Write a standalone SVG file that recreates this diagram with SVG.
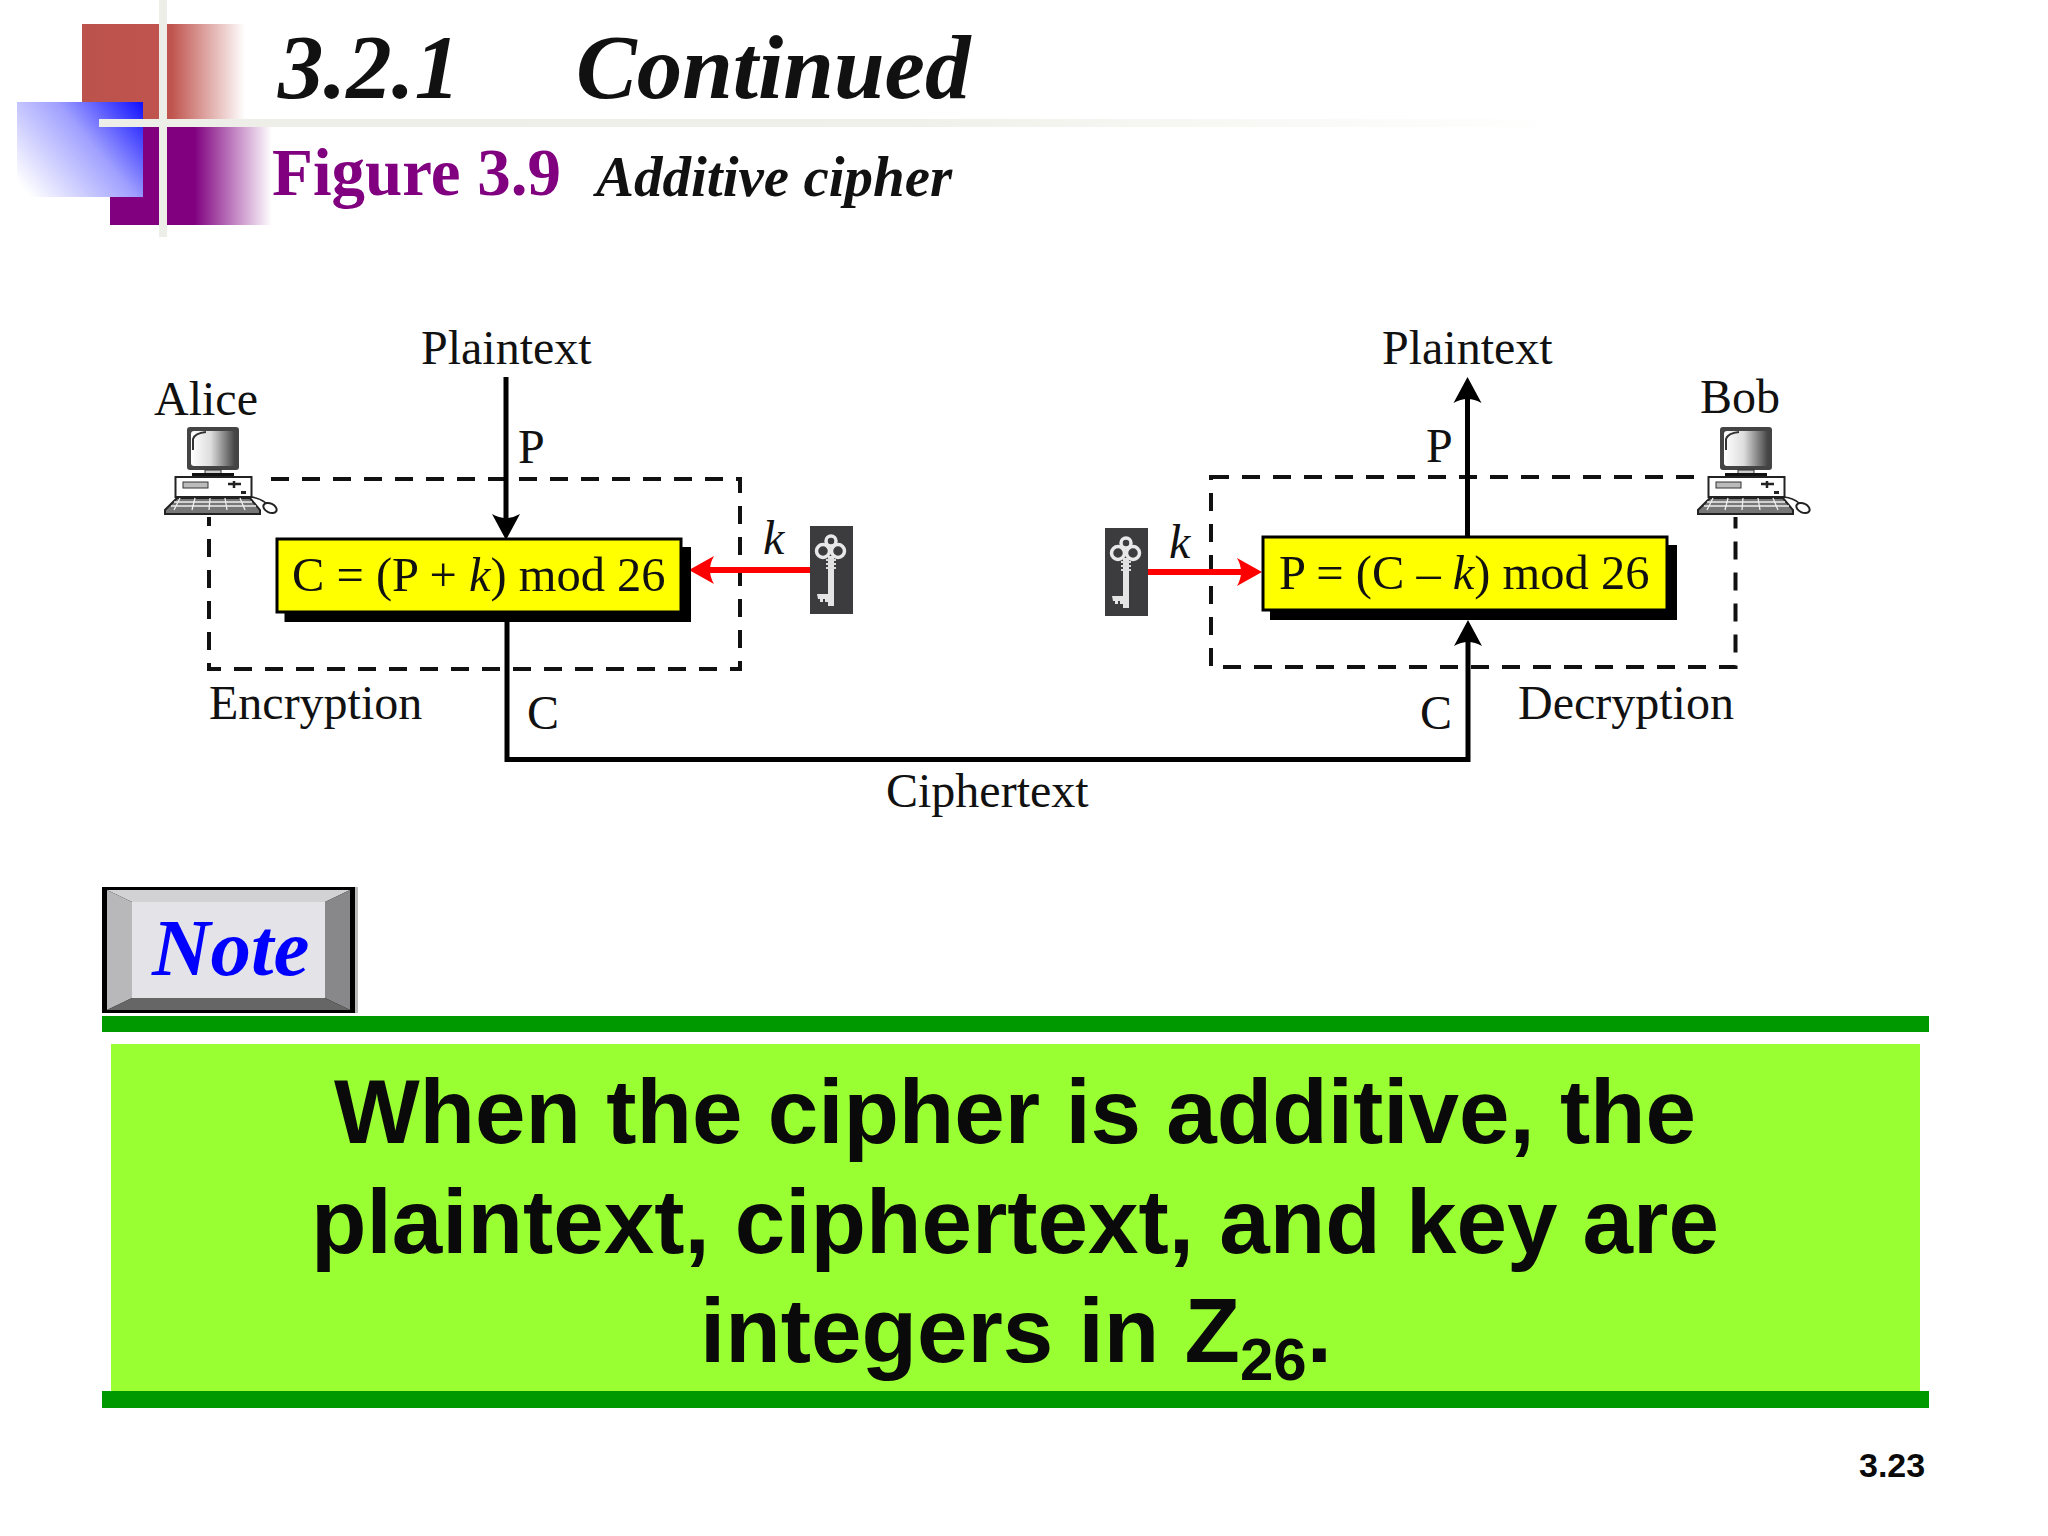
<svg xmlns="http://www.w3.org/2000/svg" xmlns:xlink="http://www.w3.org/1999/xlink" width="2048" height="1536" viewBox="0 0 2048 1536">
<style>
.s{font-family:"Liberation Serif","Times New Roman",serif;fill:#111}
.l{font-size:48px}
.bi{font-weight:bold;font-style:italic}
.i{font-style:italic}
.f{font-size:48.500px}
.b{font-family:"Liberation Sans",Arial,sans-serif;font-weight:bold;fill:#0a0a0a}
.m{font-size:90.800px;text-anchor:middle}
.dash{fill:none;stroke:#111;stroke-width:4;stroke-dasharray:18 13}
.wire{fill:none;stroke:#000;stroke-width:5}
.red{fill:none;stroke:#f00;stroke-width:6}
</style>
<defs>
<linearGradient id="gr" x1="82" x2="245" gradientUnits="userSpaceOnUse" y1="0" y2="0"><stop offset="0" stop-color="#bc524c"/><stop offset=".55" stop-color="#c0544e"/><stop offset="1" stop-color="#fff"/></linearGradient>
<linearGradient id="gp" x1="110" x2="272" gradientUnits="userSpaceOnUse" y1="0" y2="0"><stop offset="0" stop-color="#800080"/><stop offset=".52" stop-color="#800080"/><stop offset="1" stop-color="#fff"/></linearGradient>
<linearGradient id="gb" x1="143" y1="102" x2="30" y2="197" gradientUnits="userSpaceOnUse"><stop offset="0" stop-color="#0f0fff"/><stop offset=".45" stop-color="#a0a0ff"/><stop offset="1" stop-color="#fff"/></linearGradient>
<linearGradient id="gl" x1="99" x2="1560" gradientUnits="userSpaceOnUse" y1="0" y2="0"><stop offset="0" stop-color="#eeeee8"/><stop offset=".55" stop-color="#f0f0ea"/><stop offset="1" stop-color="#fff"/></linearGradient>
<linearGradient id="gs" x1="0" x2="1" y1="0" y2="0"><stop offset="0" stop-color="#fff"/><stop offset=".45" stop-color="#ddd"/><stop offset="1" stop-color="#444"/></linearGradient>
<marker id="ah" markerUnits="userSpaceOnUse" markerWidth="30" markerHeight="32" refX="16" refY="15" orient="auto"><path d="M26,15 L0,1 Q8,15 0,29 Z" fill="#000"/></marker>
<marker id="ar" markerUnits="userSpaceOnUse" markerWidth="30" markerHeight="32" refX="16" refY="15" orient="auto"><path d="M25,15 L0,1 Q8,15 0,29 Z" fill="#f00"/></marker>
<g id="pc">
<rect x="187" y="427" width="52" height="43" rx="3" fill="#444"/>
<rect x="191" y="431" width="44" height="35" rx="3" fill="url(#gs)"/>
<path d="M193,450 V439 Q195,433 206,432" fill="none" stroke="#333" stroke-width="2"/>
<rect x="205" y="470" width="16" height="4" fill="#ccc" stroke="#333"/>
<rect x="192" y="473" width="42" height="4" fill="#111"/>
<rect x="175.500" y="477" width="76" height="20" fill="#fff" stroke="#222" stroke-width="2"/>
<rect x="183" y="482" width="25" height="6" fill="#bbb" stroke="#333"/>
<path d="M228,484 H241 M234,481 V488" stroke="#222" stroke-width="2.500"/>
<rect x="241" y="491" width="5" height="3" fill="#222"/>
<path d="M177,498 H250 L260,510 V514 H165 V510 Z" fill="#777" stroke="#222" stroke-width="2"/>
<path d="M174,502 H252 M171,506 H256 M180,498 L174,510 M195,498 L192,510 M210,498 L209,510 M225,498 L227,510 M240,498 L245,510" stroke="#eee" stroke-width="1.300" fill="none"/>
<path d="M251,497 Q260,498 266,503" fill="none" stroke="#222" stroke-width="1.500"/>
<ellipse cx="270" cy="508" rx="7" ry="4.500" transform="rotate(25 270 508)" fill="#fff" stroke="#222" stroke-width="2"/>
</g>
<g id="key">
<rect x="810" y="526" width="43" height="88" fill="#3c3c3e"/>
<g fill="none" stroke="#e8e8e8" stroke-width="3.500"><circle cx="823" cy="551" r="6.500"/><circle cx="838" cy="551" r="6.500"/><circle cx="831" cy="541" r="5"/></g>
<rect x="828" y="556" width="6" height="50" fill="#e4e4e4"/>
<path d="M826,560 H836 M826,564 H836 M826,568 H836" stroke="#ddd" stroke-width="2"/>
<path d="M817,594 H828 V602 H825 V599 H823 V602 H820 V599 H818 Z" fill="#e4e4e4"/>
</g>
</defs>
<rect width="2048" height="1536" fill="#fff"/>

<g id="header">
<rect x="82" y="24" width="163" height="95" fill="url(#gr)"/>
<rect x="110" y="119" width="162" height="106" fill="url(#gp)"/>
<rect x="17" y="102" width="126" height="95" fill="url(#gb)"/>
<rect x="99" y="119" width="1461" height="8" fill="url(#gl)"/>
<rect x="159" y="0" width="8" height="237" fill="#eeeee8"/>
<text class="s bi" x="278" y="98" font-size="91" fill="#000">3.2.1</text>
<text class="s bi" x="576" y="98" font-size="91" fill="#000">Continued</text>
<text x="272" y="195" font-size="67" font-weight="bold" font-family="'Liberation Serif',serif" fill="#800080">Figure 3.9</text>
<text class="s bi" x="596" y="196" font-size="57" fill="#000">Additive cipher</text>
</g>

<g id="connectors">
<rect class="dash" x="209" y="479" width="531" height="190"/>
<rect class="dash" x="1211" y="477" width="524.500" height="190"/>
<path class="wire" d="M506,377 V530" marker-end="url(#ah)"/>
<path class="wire" d="M507,620 V759.500 H1468 V630" marker-end="url(#ah)"/>
<path class="wire" d="M1467.500,537 V387" marker-end="url(#ah)"/>
<path class="red" d="M810,570 H698" marker-end="url(#ar)"/>
<path class="red" d="M1148,572 H1253" marker-end="url(#ar)"/>
</g>

<g id="alice">
<rect x="163" y="425" width="100" height="92" fill="#fff"/>
<use href="#pc"/>
<text class="s l" x="154" y="415">Alice</text>
</g>
<g id="bob">
<rect x="1696" y="425" width="112" height="92" fill="#fff"/>
<use href="#pc" x="1533"/>
<text class="s l" x="1700" y="413">Bob</text>
</g>

<g id="encrypt">
<rect x="284.500" y="547" width="406.500" height="75" fill="#000"/>
<rect x="277" y="539" width="404" height="73" fill="#ff0" stroke="#000" stroke-width="3"/>
<text class="s f" x="292" y="591">C = (P + <tspan class="i">k</tspan>) mod 26</text>
</g>
<g id="decrypt">
<rect x="1270" y="545" width="407" height="75" fill="#000"/>
<rect x="1263" y="537" width="404" height="73" fill="#ff0" stroke="#000" stroke-width="3"/>
<text class="s f" x="1279" y="589">P = (C – <tspan class="i">k</tspan>) mod 26</text>
</g>

<g id="key-left"><use href="#key"/></g>
<g id="key-right"><use href="#key" x="295" y="2"/></g>

<g id="labels">
<text class="s l" x="421" y="364">Plaintext</text>
<text class="s l" x="1382" y="364">Plaintext</text>
<text class="s l" x="518" y="463">P</text>
<text class="s l" x="1426" y="462">P</text>
<text class="s l i" x="763" y="554">k</text>
<text class="s l i" x="1169" y="558">k</text>
<text class="s l" x="209" y="719">Encryption</text>
<text class="s l" x="1518" y="719">Decryption</text>
<text class="s l" x="527" y="729">C</text>
<text class="s l" x="1420" y="729">C</text>
<text class="s l" x="886" y="807">Ciphertext</text>
</g>

<g id="note">
<rect x="102" y="887" width="256" height="126" fill="#bbb"/>
<rect x="102" y="887" width="253" height="126" fill="#000"/>
<path d="M107,890 H350 L325,902 H132 Z" fill="#d2d2d4"/>
<path d="M107,890 L132,902 V998 L107,1010 Z" fill="#b8b8ba"/>
<path d="M350,890 L325,902 V998 L350,1010 Z" fill="#88888a"/>
<path d="M107,1010 L132,998 H325 L350,1010 Z" fill="#666"/>
<rect x="132" y="902" width="193" height="96" fill="#e4e4e8"/>
<text x="152" y="975" font-size="81" font-family="'Liberation Serif',serif" font-weight="bold" font-style="italic" fill="#0000ff">Note</text>
</g>

<g id="statement">
<rect x="102" y="1016" width="1827" height="16" fill="#009900"/>
<rect x="111" y="1044" width="1809" height="347" fill="#99ff33"/>
<rect x="102" y="1391" width="1827" height="17" fill="#009900"/>
<text class="b m" x="1015" y="1143">When the cipher is additive, the</text>
<text class="b m" x="1015" y="1253">plaintext, ciphertext, and key are</text>
<text class="b m" x="1016" y="1362">integers in Z<tspan font-size="60" dy="18">26</tspan><tspan dy="-18">.</tspan></text>
</g>

<text id="page" class="b" x="1859" y="1477" font-size="34">3.23</text>
</svg>
